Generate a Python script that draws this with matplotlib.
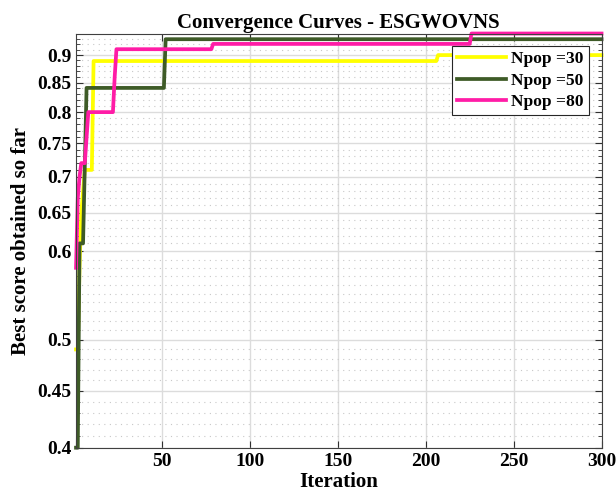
import numpy as np
import matplotlib
matplotlib.use("Agg")
import matplotlib.pyplot as plt
from matplotlib.ticker import FixedLocator, NullFormatter

plt.rcParams['font.family'] = ['Liberation Serif', 'DejaVu Serif']
plt.rcParams['font.weight'] = 'bold'

n_iter = 300
# (first iteration, best score) where the best score changes
start_30 = [1, 3, 4, 5, 6, 11, 207]
score_30 = [0.49, 0.58, 0.65, 0.68, 0.71, 0.889, 0.900]
start_50 = [1, 3, 6, 7, 52]
score_50 = [0.40, 0.61, 0.72, 0.841, 0.930]
start_80 = [1, 2, 3, 4, 7, 8, 23, 24, 79, 226]
score_80 = [0.58, 0.67, 0.70, 0.72, 0.76, 0.80, 0.86, 0.911, 0.921, 0.941]

labels = ['Npop =30', 'Npop =50', 'Npop =80']
colors = ['#ffff00', '#3e5b27', '#ff1ca6']

yticks = [0.4, 0.45, 0.5, 0.6, 0.65, 0.7, 0.75, 0.8, 0.85, 0.9]
xticks = [50, 100, 150, 200, 250, 300]


def expand(starts, scores):
    counts = np.diff(starts + [n_iter + 1])
    return np.repeat(scores, counts)


it = np.arange(1, n_iter + 1)
curves = [expand(start_30, score_30), expand(start_50, score_50), expand(start_80, score_80)]

fig = plt.figure(figsize=(6.16, 5.04), dpi=100)
ax = fig.add_axes([0.1234, 0.1117, 0.8531, 0.8218])

for y, lab, c in zip(curves, labels, colors):
    ax.semilogy(it, y, color=c, lw=2.7, label=lab, clip_on=False)

ax.set_xlim(1, 300)
ax.set_ylim(0.4, 0.941)
ax.yaxis.set_major_locator(FixedLocator(yticks))
ax.yaxis.set_minor_locator(FixedLocator(np.arange(0.41, 0.94, 0.01)))
ax.yaxis.set_minor_formatter(NullFormatter())
ax.set_yticklabels([f'{v:g}' for v in yticks])
ax.set_xticks(xticks)

ax.grid(True, which='major', color='#dcdcdc', lw=1.0)
ax.grid(True, which='minor', axis='y', color='#c8c8c8', lw=0.8, linestyle=(0, (1, 4)))
ax.set_axisbelow(True)

ax.tick_params(which='both', direction='in', top=True, right=True, labelsize=14, color='#303030')
ax.tick_params(which='major', length=5)
ax.tick_params(which='minor', length=3)
for s in ax.spines.values():
    s.set_color('#404040')
    s.set_linewidth(0.8)

ax.set_title('Convergence Curves - ESGWOVNS', fontsize=15, fontweight='bold', pad=4)
ax.set_xlabel('Iteration', fontsize=15, fontweight='bold', labelpad=2)
ax.set_ylabel('Best score obtained so far', fontsize=15, fontweight='bold', labelpad=4)

leg = ax.legend(loc='upper right', fontsize=12.5, fancybox=False, framealpha=1,
                edgecolor='#262626', borderaxespad=0.72, handlelength=2.8,
                borderpad=0.3, labelspacing=0.3, handletextpad=0.3)
leg.get_frame().set_linewidth(0.8)

fig.savefig('out.png', dpi=100)
